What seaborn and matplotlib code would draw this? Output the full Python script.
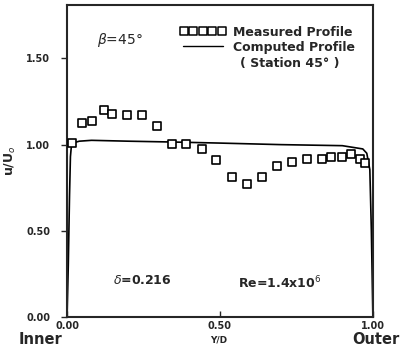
import matplotlib
matplotlib.use("Agg")
import matplotlib.pyplot as plt
import seaborn as sns
import pandas as pd

# Measured profile (squares)
meas_x = [0.015, 0.05, 0.08, 0.12, 0.148, 0.197, 0.244, 0.293, 0.343, 0.389,
          0.442, 0.488, 0.538, 0.587, 0.636, 0.685, 0.736, 0.783, 0.834, 0.862,
          0.90, 0.927, 0.957, 0.974]
meas_y = [1.01, 1.125, 1.135, 1.20, 1.18, 1.17, 1.17, 1.11, 1.005, 1.005,
          0.977, 0.909, 0.812, 0.773, 0.812, 0.874, 0.899, 0.917, 0.919, 0.928,
          0.928, 0.948, 0.919, 0.894]

# Computed profile (line)
comp_x = [0.0, 0.004, 0.008, 0.011, 0.014, 0.02, 0.04, 0.08, 0.2, 0.35, 0.5,
          0.7, 0.9, 0.967, 0.98, 0.99, 0.995, 1.0]
comp_y = [0.0, 0.3, 0.7, 0.93, 0.99, 1.01, 1.02, 1.025, 1.02, 1.015, 1.009,
          1.0, 0.994, 0.975, 0.95, 0.855, 0.5, 0.0]

yticks = [0.0, 0.5, 1.0, 1.5]
xticks = [0.0, 0.5, 1.0]

sns.set_style("ticks")
plt.rcParams['font.family'] = ['DejaVu Sans']

fig = plt.figure(figsize=(4.04, 3.61), dpi=100)
ax = fig.add_axes([0.166, 0.122, 0.757, 0.864])

sns.lineplot(x=comp_x, y=comp_y, ax=ax, color="black", linewidth=1.2, sort=False)
sns.scatterplot(x=meas_x, y=meas_y, ax=ax, marker="s", s=38, facecolor="white",
                edgecolor="black", linewidth=1.2, zorder=3)

ax.set_xlim(0, 1.0)
ax.set_ylim(0, 1.81)
ax.set_yticks(yticks)
ax.set_yticklabels([f"{v:.2f}" for v in yticks], fontsize=7, fontweight="bold")
ax.set_xticks(xticks)
ax.set_xticklabels([f"{v:.2f}" for v in xticks], fontsize=7, fontweight="bold")
ax.tick_params(axis="y", length=4, width=1, pad=8)
ax.tick_params(axis="x", direction="in", length=4, width=1, pad=3)
for sp in ax.spines.values():
    sp.set_linewidth(1.5)
    sp.set_visible(True)

ax.set_ylabel("u/U$_o$", fontsize=9, fontweight="bold", labelpad=6)
ax.set_xlabel("")
fig.text(219/404, 1-340/361, "Y/D", fontsize=6.5, fontweight="bold", ha="center", va="center")
fig.text(40/404, 1-340/361, "Inner", fontsize=10.5, fontweight="bold", ha="center", va="center")
fig.text(376/404, 1-340/361, "Outer", fontsize=10.5, fontweight="bold", ha="center", va="center")

# annotations
fig.text(120/404, 1-40/361, r"$\beta$=45°", fontsize=10, ha="center", va="center")
ax.scatter([0.381, 0.412, 0.443, 0.474, 0.505], [1.657] * 5,
           marker="s", s=34, facecolor="white", edgecolor="black", linewidth=1.1,
           clip_on=False, zorder=4)
fig.text(233/404, 1-32/361, "Measured Profile", fontsize=9, fontweight="bold", ha="left", va="center")
ax.plot([0.38, 0.51], [1.57, 1.57], color="black", linewidth=1.0)
fig.text(233/404, 1-47/361, "Computed Profile", fontsize=9, fontweight="bold", ha="left", va="center")
fig.text(240/404, 1-63/361, "( Station 45° )", fontsize=9, fontweight="bold", ha="left", va="center")

fig.text(142/404, 1-280/361, r"$\delta$=0.216", fontsize=9, fontweight="bold", ha="center", va="center")
fig.text(280/404, 1-283/361, "Re=1.4x10$^6$", fontsize=9, fontweight="bold", ha="center", va="center")

fig.savefig("out.png", dpi=100)
